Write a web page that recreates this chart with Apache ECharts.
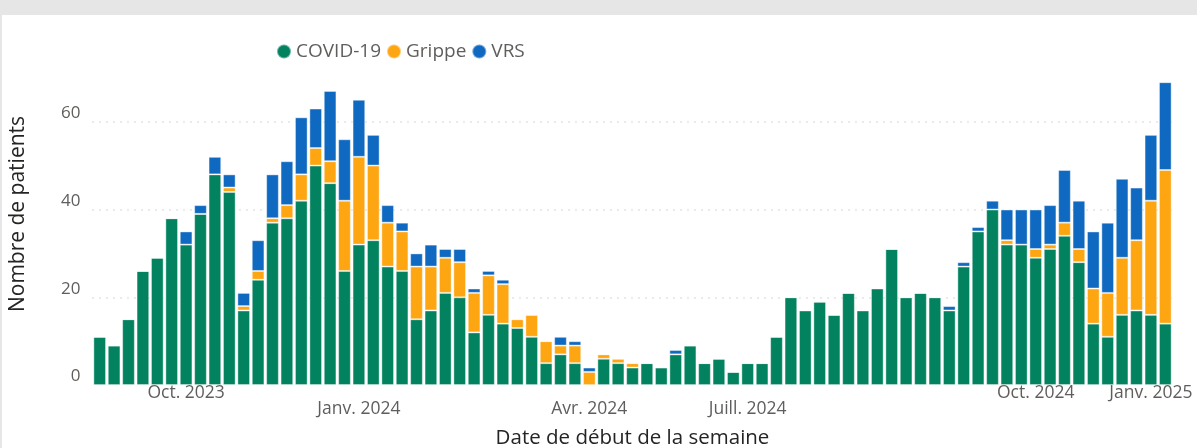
<!DOCTYPE html>
<html>
<head>
<meta charset="utf-8">
<script src="https://cdn.jsdelivr.net/npm/echarts@6/dist/echarts.min.js"></script>
<style>
  html, body { margin: 0; padding: 0; background: #ffffff; }
  #chart { width: 1197px; height: 448px; }
</style>
</head>
<body>
<div id="chart"></div>
<script>
// ---- Data (weekly patient counts) ----
const seriesNames = ['COVID-19', 'Grippe', 'VRS'];
const covid  = [11, 9, 15, 26, 29, 38, 32, 39, 48, 44, 17, 24, 37, 38, 42, 50, 46, 26, 32, 33,
                27, 26, 15, 17, 21, 20, 12, 16, 14, 13, 11, 5, 7, 5, 0, 6, 5, 4, 5, 4,
                7, 9, 5, 6, 3, 5, 5, 11, 20, 17, 19, 16, 21, 17, 22, 31, 20, 21, 20, 17,
                27, 35, 40, 32, 32, 29, 31, 34, 28, 14, 11, 16, 17, 16, 14];
const grippe = [0, 0, 0, 0, 0, 0, 0, 0, 0, 1, 1, 2, 1, 3, 6, 4, 5, 16, 20, 17,
                10, 9, 12, 10, 8, 8, 9, 9, 9, 2, 5, 5, 2, 4, 3, 1, 1, 1, 0, 0,
                0, 0, 0, 0, 0, 0, 0, 0, 0, 0, 0, 0, 0, 0, 0, 0, 0, 0, 0, 0,
                0, 0, 0, 1, 0, 2, 1, 3, 3, 8, 10, 13, 16, 26, 35];
const vrs    = [0, 0, 0, 0, 0, 0, 3, 2, 4, 3, 3, 7, 10, 10, 13, 9, 16, 14, 13, 7,
                4, 2, 3, 5, 2, 3, 1, 1, 1, 0, 0, 0, 2, 1, 1, 0, 0, 0, 0, 0,
                1, 0, 0, 0, 0, 0, 0, 0, 0, 0, 0, 0, 0, 0, 0, 0, 0, 0, 0, 1,
                1, 1, 2, 7, 8, 9, 9, 12, 11, 13, 16, 18, 12, 15, 20];
const weeks = covid.map((_, i) => 'Semaine ' + (i + 1));
const tickWeekIndex = [6, 18, 34, 45, 65, 73];
const tickLabels = ['Oct. 2023', 'Janv. 2024', 'Avr. 2024', 'Juill. 2024', 'Oct. 2024', 'Janv. 2025'];
const yTicks = [0, 20, 40, 60];

// ---- Chart ----
const colors = ['#02825f', '#fea512', '#1069c1'];
const lowerRow = new Set(['Janv. 2024', 'Avr. 2024', 'Juill. 2024']);
const fontFamily = '"Open Sans", "Noto Sans", sans-serif';
const textGray = '#605e5c';

const chart = echarts.init(document.getElementById('chart'), null, { renderer: 'canvas' });

const seriesData = [covid, grippe, vrs];
chart.setOption({
  animation: false,
  color: colors,
  textStyle: { fontFamily: fontFamily },
  graphic: [
    { type: 'rect', shape: { x: 0, y: 0, width: 1197, height: 15 }, style: { fill: '#e6e6e6' }, silent: true },
    { type: 'rect', shape: { x: 0, y: 0, width: 2, height: 448 }, style: { fill: '#e6e6e6' }, silent: true },
    { type: 'text', x: 18, y: 214, rotation: Math.PI / 2,
      style: { text: 'Nombre de patients', fontSize: 21, fontFamily: fontFamily, fill: '#252423',
               align: 'center', verticalAlign: 'middle' }, silent: true }
  ],
  legend: {
    data: seriesNames,
    icon: 'circle',
    itemWidth: 14,
    itemHeight: 14,
    itemGap: 5,
    padding: 0,
    left: 276,
    top: 42,
    textStyle: { fontSize: 19, color: textGray, fontFamily: fontFamily }
  },
  grid: { left: 92.5, right: 24.5, top: 77.8, bottom: 62.9, containLabel: false, outerBoundsMode: 'none' },
  xAxis: {
    type: 'category',
    data: weeks,
    boundaryGap: true,
    axisLine: { show: false },
    axisTick: { show: false },
    axisLabel: {
      interval: 0,
      margin: 0,
      fontSize: 17.5,
      lineHeight: 16,
      color: textGray,
      fontFamily: fontFamily,
      formatter: function (value, idx) {
        const k = tickWeekIndex.indexOf(idx);
        if (k < 0) return '';
        const t = tickLabels[k];
        return lowerRow.has(t) ? '\n' + t : t;
      }
    },
    name: 'Date de début de la semaine',
    nameLocation: 'middle',
    nameGap: 43,
    nameTextStyle: { fontSize: 20.5, color: '#252423', fontFamily: fontFamily }
  },
  yAxis: {
    type: 'value',
    min: 0,
    max: 70,
    interval: 20,
    axisLine: { show: false },
    axisTick: { show: false },
    axisLabel: {
      showMaxLabel: false,
      margin: 12,
      fontSize: 17,
      color: textGray,
      verticalAlign: 'bottom',
      fontFamily: fontFamily,
      formatter: function (v) { return yTicks.indexOf(v) >= 0 ? String(v) : ''; }
    },
    splitLine: {
      showMaxLine: false,
      showMinLine: false,
      lineStyle: { color: '#c8c6c4', type: [1, 6], width: 1.5 }
    }
  },
  series: seriesNames.map((name, i) => ({
    name: name,
    type: 'bar',
    stack: 'total',
    barCategoryGap: '12%',
    data: seriesData[i],
    itemStyle: { color: colors[i], borderColor: 'rgba(255,255,255,0.4)', borderWidth: 1 }
  }))
});
</script>
</body>
</html>
